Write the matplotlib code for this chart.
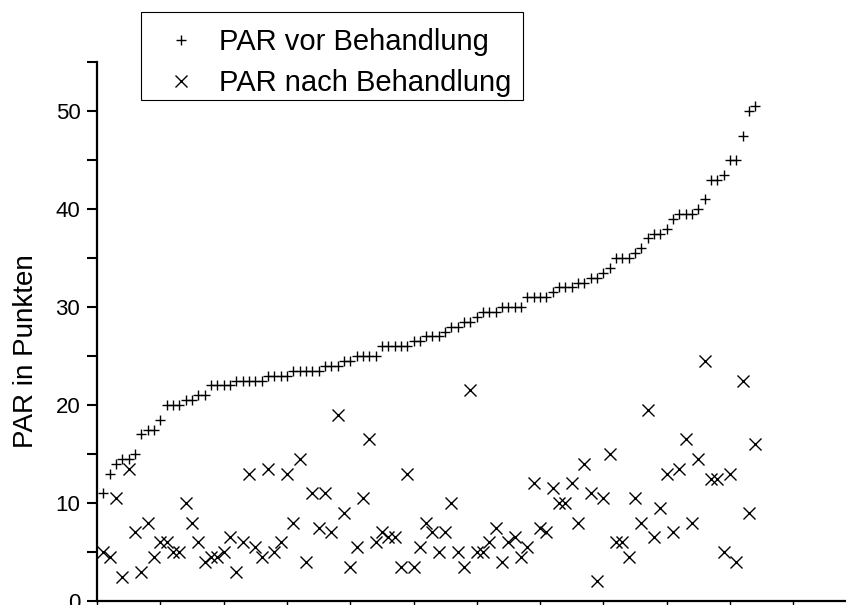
import matplotlib
matplotlib.use("Agg")
import matplotlib.pyplot as plt
from matplotlib.patches import Rectangle
from matplotlib.ticker import MultipleLocator, NullFormatter

plt.rcParams['font.family'] = ['Liberation Sans', 'DejaVu Sans']

# PAR before treatment (sorted ascending), per patient
par_vor = [11, 13, 14, 14.5, 14.5, 15, 17, 17.5, 17.5, 18.5,
           20, 20, 20, 20.5, 20.5, 21, 21, 22, 22, 22,
           22, 22.5, 22.5, 22.5, 22.5, 22.5, 23, 23, 23, 23,
           23.5, 23.5, 23.5, 23.5, 23.5, 24, 24, 24, 24.5, 24.5,
           25, 25, 25, 25, 26, 26, 26, 26, 26, 26.5,
           26.5, 27, 27, 27, 27.5, 28, 28, 28.5, 28.5, 29,
           29.5, 29.5, 29.5, 30, 30, 30, 30, 31, 31, 31,
           31, 31.5, 32, 32, 32, 32.5, 32.5, 33, 33, 33.5,
           34, 35, 35, 35, 35.5, 36, 37, 37.5, 37.5, 38,
           39, 39.5, 39.5, 39.5, 40, 41, 43, 43, 43.5, 45,
           45, 47.5, 50, 50.5]

# PAR after treatment, same patients
par_nach = [5, 4.5, 10.5, 2.5, 13.5, 7, 3, 8, 4.5, 6,
            6, 5, 5, 10, 8, 6, 4, 4.5, 4.5, 5,
            6.5, 3, 6, 13, 5.5, 4.5, 13.5, 5, 6, 13,
            8, 14.5, 4, 11, 7.5, 11, 7, 19, 9, 3.5,
            5.5, 10.5, 16.5, 6, 7, 6.5, 6.5, 3.5, 13, 3.5,
            5.5, 8, 7, 5, 7, 10, 5, 3.5, 21.5, 5,
            5, 6, 7.5, 4, 6, 6.5, 4.5, 5.5, 12, 7.5,
            7, 11.5, 10, 10, 12, 8, 14, 11, 2, 10.5,
            15, 6, 6, 4.5, 10.5, 8, 19.5, 6.5, 9.5, 13,
            7, 13.5, 16.5, 8, 14.5, 24.5, 12.5, 12.5, 5, 13,
            4, 22.5, 9, 16]

patients = list(range(1, len(par_vor) + 1))

W, H = 846, 605
fig = plt.figure(figsize=(W / 100, H / 100), dpi=100)
ax = fig.add_axes([97/W, 4/H, 1 - 97/W, (601 - 62)/H])

h1, = ax.plot(patients, par_vor, linestyle='none', marker='+', markersize=6.5,
              markeredgewidth=1.0, color='black', label='PAR vor Behandlung')
h2, = ax.plot(patients, par_nach, linestyle='none', marker='x', markersize=8,
              markeredgewidth=1.0, color='black', label='PAR nach Behandlung')

ax.set_xlim(0, (W - 97) / 6.33)
ax.set_ylim(0, 55)

ax.spines['top'].set_visible(False)
ax.spines['right'].set_visible(False)
ax.spines['left'].set_linewidth(1.6)
ax.spines['bottom'].set_linewidth(1.6)

ax.yaxis.set_major_locator(MultipleLocator(10))
ax.yaxis.set_minor_locator(MultipleLocator(5))
ax.xaxis.set_major_locator(MultipleLocator(10))
ax.xaxis.set_major_formatter(NullFormatter())
ax.tick_params(axis='y', which='major', length=7, width=1.5, direction='out',
               labelsize=16, pad=5)
ax.tick_params(axis='y', which='minor', length=7, width=1.5, direction='out')
ax.tick_params(axis='x', which='major', length=5, width=1.0, direction='out')

ax.set_ylabel('PAR in Punkten', fontsize=20)
ax.yaxis.set_label_coords(-0.077, 0.463)

# legend entries (frame drawn separately as a plain box)
leg = fig.legend(handles=[h1, h2], loc='upper left',
                 bbox_to_anchor=(141/W, 1 - 18/H),
                 bbox_transform=fig.transFigure,
                 fontsize=21, frameon=False,
                 borderpad=0.36, labelspacing=0.43, handletextpad=0.33,
                 handlelength=2.0, borderaxespad=0.0, markerscale=1.0)

fig.patches.append(Rectangle((141/W, 1 - 100/H), (523 - 141)/W, 88/H,
                             transform=fig.transFigure, fill=False,
                             edgecolor='black', linewidth=0.8, zorder=5))

fig.savefig('out.png', dpi=100)
